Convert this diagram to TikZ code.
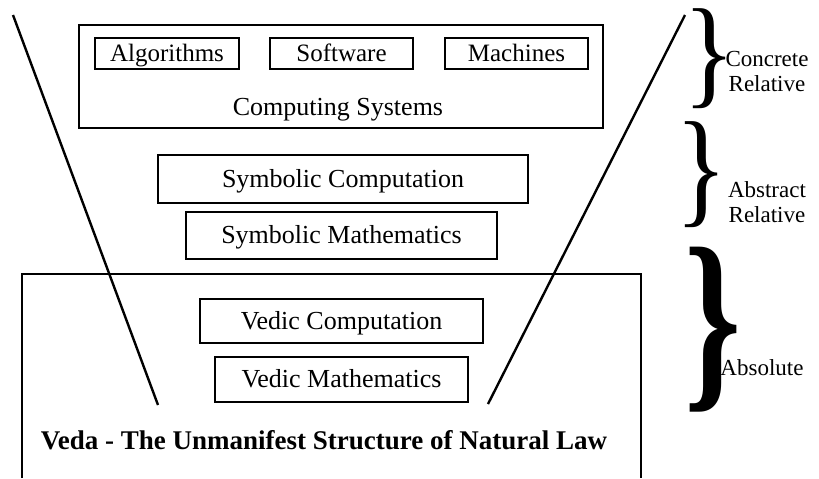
\documentclass[tikz,border=0pt]{standalone}
\usepackage{fontspec}
\setmainfont{Liberation Serif}
\usepackage{graphicx}
\usepackage{tikz}
\usetikzlibrary{positioning,calc}

\newcommand{\tallbrace}[2]{\resizebox*{#1}{#2}{\}}}

\begin{document}
\begin{tikzpicture}[x=0.5pt, y=-0.5pt,
  box/.style={draw, line width=1pt, inner sep=0pt, text height=10.5pt, text depth=2.5pt,
              font=\fontsize{13pt}{15pt}\selectfont},
  tag/.style={font=\fontsize{11.5pt}{12.5pt}\selectfont, align=center, inner sep=0pt},
  brace/.style={inner sep=0pt},
  slant/.style={line width=1.2pt}]
  \useasboundingbox (0,0) rectangle (819,478);

  % concrete relative level
  \node[box, minimum width=262pt, minimum height=51.5pt] (sys) at (341,76.5) {};
  \node[box, font=\fontsize{12.5pt}{14pt}\selectfont, minimum width=72pt, minimum height=15.5pt] (alg) at (167,53.5) {Algorithms};
  \node[box, font=\fontsize{12.5pt}{14pt}\selectfont, minimum width=71.5pt, minimum height=15.5pt] (soft) at (341.5,53.5) {Software};
  \node[box, font=\fontsize{12.5pt}{14pt}\selectfont, minimum width=71.5pt, minimum height=15.5pt] (mach) at (516.5,53.5) {Machines};
  \node[font=\fontsize{13pt}{15pt}\selectfont, inner sep=0pt] (syslbl) at (338,110) {Computing Systems};

  % abstract relative level
  \node[box, minimum width=185pt, minimum height=24pt] (symcomp) at (343,179) {Symbolic Computation};
  \node[box, minimum width=155.5pt, minimum height=23.5pt] (symmath) at (341.5,235.5) {Symbolic Mathematics};

  % absolute level
  \draw[line width=1pt] (22,478) |- (641,274) -- (641,478);
  \node[box, minimum width=141.5pt, minimum height=22pt] (vcomp) at (341.5,321) {Vedic Computation};
  \node[box, minimum width=126.5pt, minimum height=22.5pt] (vmath) at (341.5,379.5) {Vedic Mathematics};
  \node[font=\fontsize{13.5pt}{15pt}\selectfont\bfseries, inner sep=0pt] (veda) at (324,440)
    {Veda - The Unmanifest Structure of Natural Law};

  % funnel
  \coordinate (ltop) at (13,15);
  \coordinate (lbot) at (158,405);
  \coordinate (rtop) at (685,15);
  \coordinate (rbot) at (488,404);
  \draw[slant] (ltop) -- (lbot);
  \draw[slant] (rtop) -- (rbot);

  % braces
  \node[brace] (bconc) at (709,59) {\tallbrace{26pt}{50pt}};
  \node[brace] (babs) at (701,175) {\tallbrace{26pt}{53pt}};
  \node[brace] (bveda) at (713,330) {\resizebox*{28.5pt}{82.5pt}{\textbf{\}}}};
  \node[tag] (conc) at (767,71) {Concrete\\Relative};
  \node[tag] (abst) at (767,202) {Abstract\\Relative};
  \node[tag] (absl) at (762,368) {Absolute};
\end{tikzpicture}
\end{document}
